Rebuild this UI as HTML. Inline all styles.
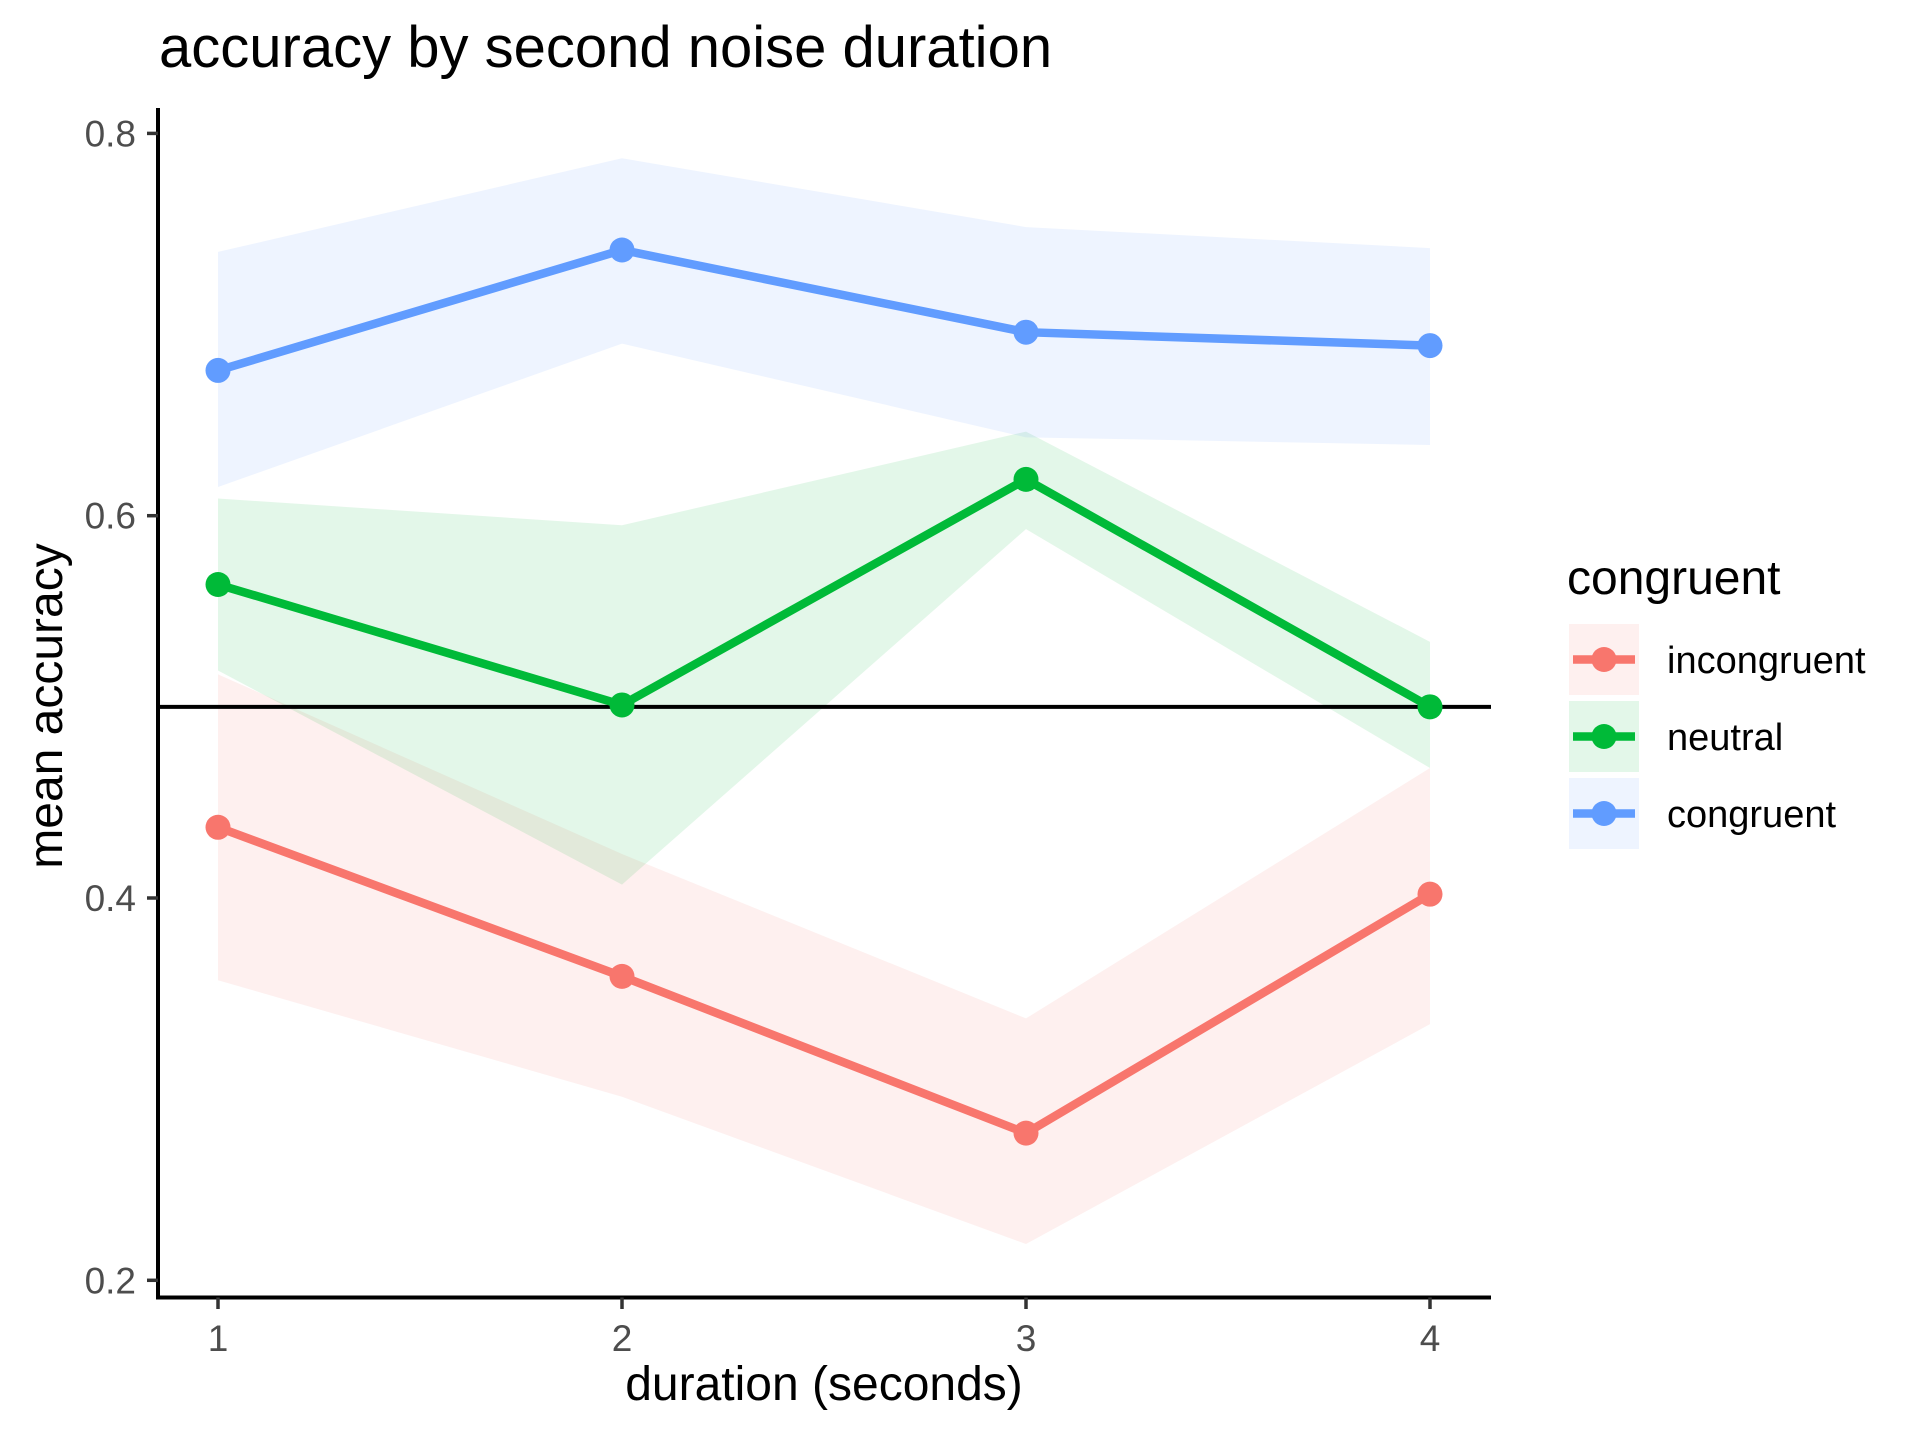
<!DOCTYPE html>
<html><head><meta charset="utf-8"><style>body{margin:0;background:#fff}svg{display:block}text{font-family:"Liberation Sans",sans-serif}</style></head>
<body>
<svg id="chart" width="1920" height="1440" viewBox="0 0 1920 1440">
<text x="159" y="67" font-size="58" fill="#000">accuracy by second noise duration</text>
<g id="bands"></g><g id="lines"></g>
<g id="axes"></g>
<text x="824" y="1400" font-size="48" text-anchor="middle" fill="#000">duration (seconds)</text>
<text transform="translate(62,706) rotate(-90)" font-size="48" text-anchor="middle" fill="#000">mean accuracy</text>
<g>
<text x="1567" y="594" font-size="48" fill="#000">congruent</text>
<g id="legend"></g></g>
</svg>
<script>
const durations=[1,2,3,4];
const seriesNames=["incongruent","neutral","congruent"];
const colors=["#F8766D","#00BA38","#619CFF"];
const incongruentMean=[0.437,0.359,0.277,0.402];
const incongruentUpper=[0.517,0.423,0.337,0.468];
const incongruentLower=[0.357,0.296,0.219,0.334];
const neutralMean=[0.564,0.501,0.619,0.500];
const neutralUpper=[0.609,0.595,0.644,0.534];
const neutralLower=[0.519,0.407,0.593,0.468];
const congruentMean=[0.676,0.739,0.696,0.689];
const congruentUpper=[0.738,0.787,0.751,0.740];
const congruentLower=[0.615,0.690,0.641,0.637];
const yTicks=[0.2,0.4,0.6,0.8];
const xTicks=[1,2,3,4];
const refLine=0.5;
const NS="http://www.w3.org/2000/svg";
const X=d=>218+(d-1)*404;
const Y=v=>133.4+(0.8-v)*1911.5;
function mk(tag,attrs,parent){const e=document.createElementNS(NS,tag);for(const k in attrs)e.setAttribute(k,attrs[k]);parent.appendChild(e);return e;}
const bands=document.getElementById('bands'),lines=document.getElementById('lines'),axes=document.getElementById('axes'),legend=document.getElementById('legend');
const means=[incongruentMean,neutralMean,congruentMean],ups=[incongruentUpper,neutralUpper,congruentUpper],los=[incongruentLower,neutralLower,congruentLower];
means.forEach((m,i)=>{
 const pts=durations.map((d,j)=>X(d)+','+Y(ups[i][j])).concat(durations.slice().reverse().map((d,jj)=>{const j=durations.length-1-jj;return X(d)+','+Y(los[i][j]);}));
 const p=mk('polygon',{points:pts.join(' '),fill:colors[i],'fill-opacity':0.11},bands);
 
 
});
const rl=mk('line',{x1:158,x2:1491,y1:Y(refLine),y2:Y(refLine),stroke:'#000','stroke-width':4},bands);


means.forEach((m,i)=>{
 const pl=mk('polyline',{points:durations.map((d,j)=>X(d)+','+Y(m[j])).join(' '),fill:'none',stroke:colors[i],'stroke-width':8.5},lines);
 
 
 durations.forEach((d,j)=>{
  const c=mk('circle',{cx:X(d),cy:Y(m[j]),r:12.5,fill:colors[i]},lines);
  
  
 });
});
const ya=mk('line',{x1:158,x2:158,y1:108,y2:1299.5,stroke:'#000','stroke-width':4},axes);


const xa=mk('line',{x1:156,x2:1491,y1:1297.5,y2:1297.5,stroke:'#000','stroke-width':4},axes);


yTicks.forEach(v=>{
 const t=mk('line',{x1:147,x2:158,y1:Y(v),y2:Y(v),stroke:'#333','stroke-width':3.5},axes);
 
 
 const l=mk('text',{x:136,y:Y(v)+13,'font-size':37,fill:'#4d4d4d','text-anchor':'end'},axes);l.textContent=v.toFixed(1);
 
 
});
xTicks.forEach(d=>{
 const t=mk('line',{x1:X(d),x2:X(d),y1:1297.5,y2:1309,stroke:'#333','stroke-width':3.5},axes);
 
 
 const l=mk('text',{x:X(d),y:1351,'font-size':37,fill:'#4d4d4d','text-anchor':'middle'},axes);l.textContent=d;
 
 
});
seriesNames.forEach((n,i)=>{
 const y0=624+i*77;
 const g=mk('g',{},legend);
 
 
 mk('rect',{x:1569,y:y0,width:70,height:71,fill:colors[i],'fill-opacity':0.11},g);
 mk('line',{x1:1573,x2:1635,y1:y0+35.5,y2:y0+35.5,stroke:colors[i],'stroke-width':8.5},g);
 mk('circle',{cx:1604,cy:y0+35.5,r:12.5,fill:colors[i]},g);
 const t=mk('text',{x:1667,y:y0+49,'font-size':38,fill:'#000'},g);t.textContent=n;
});
</script>
</body></html>
